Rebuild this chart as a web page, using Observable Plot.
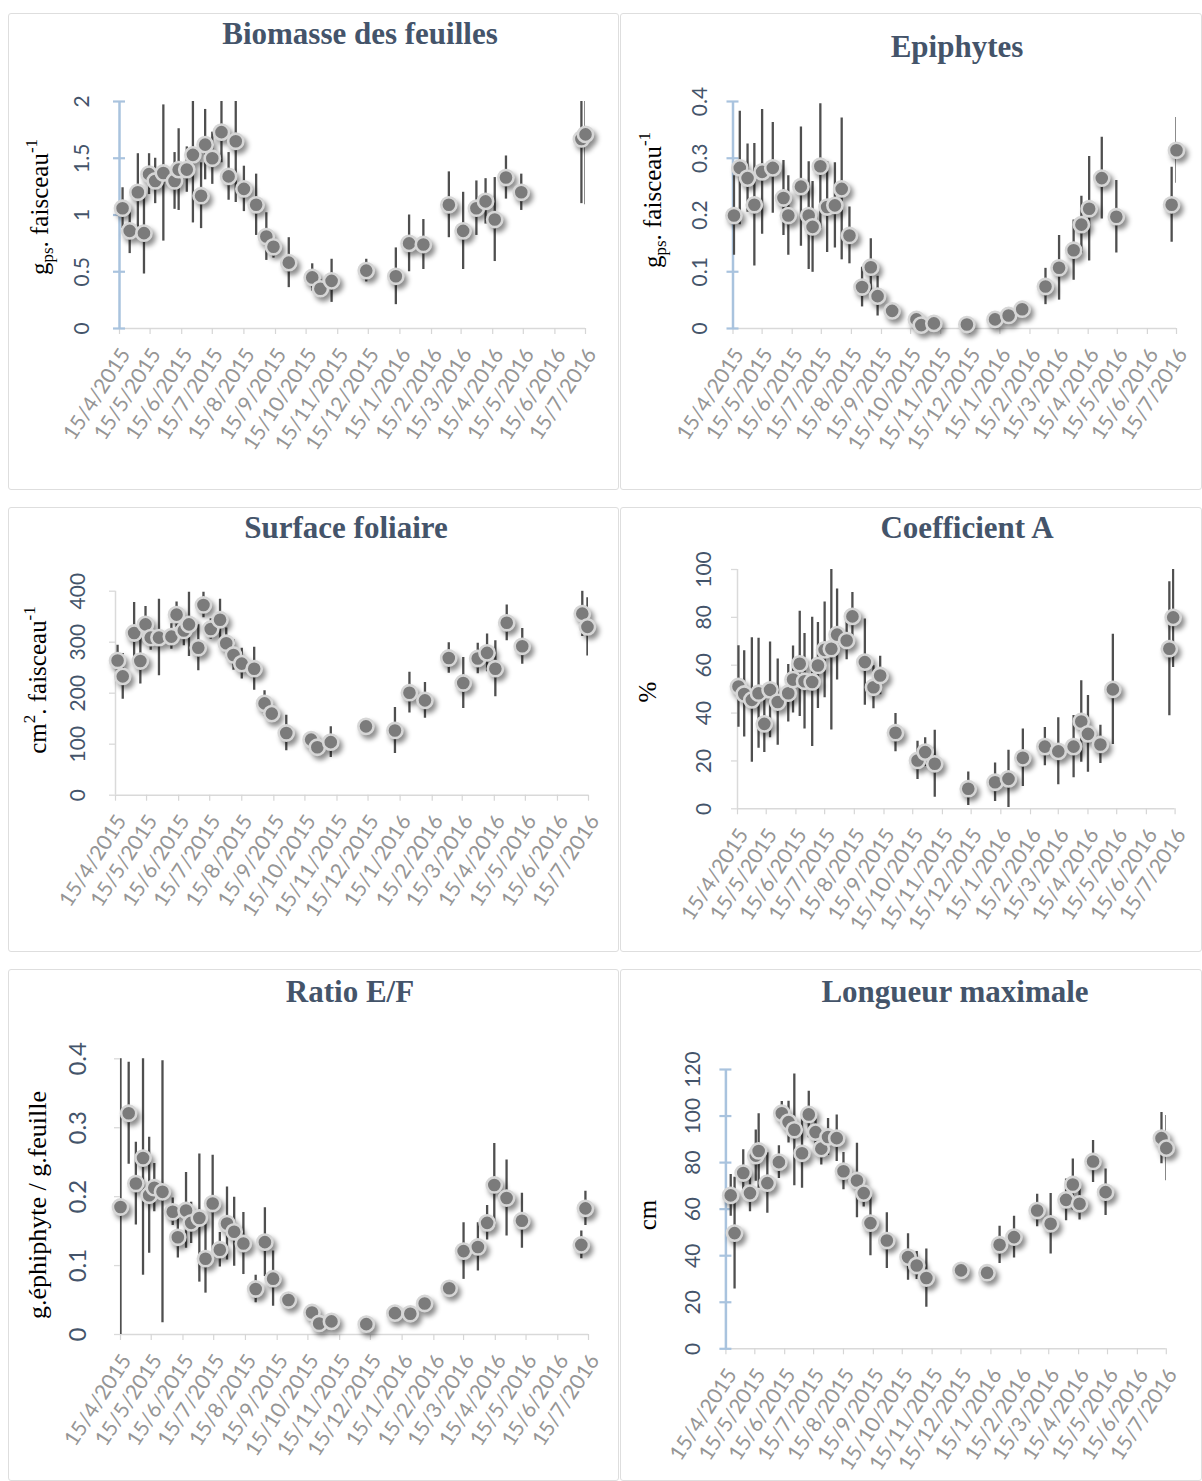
<!DOCTYPE html>
<html lang="fr">
<head>
<meta charset="utf-8">
<script src="https://cdn.jsdelivr.net/npm/d3@7"></script>
<script src="https://cdn.jsdelivr.net/npm/@observablehq/plot@0.6"></script>
<style>
  body { margin: 0; background: #fff; }
  #board { position: relative; width: 1202px; height: 1481px; overflow: hidden; background: #fff; }
  .panel { position: absolute; box-sizing: border-box; border: 1.5px solid #dedede; border-radius: 3px; }
  .chart { position: absolute; }
</style>
</head>
<body>
<div id="board"></div>
<script>
// Monthly date ticks shared by every panel
const xTickLabels = ["15/4/2015","15/5/2015","15/6/2015","15/7/2015","15/8/2015","15/9/2015","15/10/2015",
  "15/11/2015","15/12/2015","15/1/2016","15/2/2016","15/3/2016","15/4/2016","15/5/2016","15/6/2016","15/7/2016"];

// Biomasse des feuilles (g ps / faisceau): mean and error half-width
const biomDates = ["2015-04-18","2015-04-25","2015-05-03","2015-05-09","2015-05-14","2015-05-20","2015-05-28","2015-06-08",
  "2015-06-12","2015-06-20","2015-06-26","2015-07-04","2015-07-08","2015-07-15","2015-07-24","2015-07-31","2015-08-07",
  "2015-08-15","2015-08-27","2015-09-06","2015-09-13","2015-09-28","2015-10-21","2015-10-29","2015-11-09","2015-12-13",
  "2016-01-11","2016-01-24","2016-02-07","2016-03-03","2016-03-17","2016-03-30","2016-04-08","2016-04-17","2016-04-28",
  "2016-05-13","2016-07-11","2016-07-15"];
const biomMean = [1.06,0.86,1.20,0.84,1.36,1.30,1.37,1.30,1.40,1.40,1.53,1.17,1.62,1.50,1.73,1.34,1.65,1.23,1.09,0.81,
  0.72,0.58,0.45,0.35,0.42,0.51,0.46,0.75,0.74,1.09,0.86,1.06,1.12,0.96,1.33,1.20,1.67,1.71];
const biomErr = [0.18,0.20,0.34,0.36,0.18,0.20,0.60,0.25,0.36,0.20,0.60,0.29,0.31,0.23,0.27,0.21,0.54,0.20,0.27,0.21,
  0.10,0.22,0.12,0.08,0.19,0.10,0.25,0.25,0.22,0.29,0.34,0.24,0.20,0.37,0.19,0.16,0.57,0.62];
const biomTicks = [0, 0.5, 1, 1.5, 2];

// Epiphytes (g ps / faisceau)
const epiDates = ["2015-04-16","2015-04-22","2015-04-30","2015-05-07","2015-05-15","2015-05-26","2015-06-06","2015-06-11",
  "2015-06-24","2015-07-02","2015-07-06","2015-07-14","2015-07-21","2015-07-29","2015-08-05","2015-08-13","2015-08-26",
  "2015-09-04","2015-09-11","2015-09-26","2015-10-21","2015-10-26","2015-11-08","2015-12-12","2016-01-10","2016-01-24",
  "2016-02-07","2016-03-02","2016-03-16","2016-03-31","2016-04-08","2016-04-16","2016-04-29","2016-05-14","2016-07-10",
  "2016-07-15"];
const epiMean = [0.199,0.283,0.265,0.218,0.276,0.283,0.230,0.199,0.250,0.199,0.179,0.286,0.214,0.217,0.246,0.164,0.073,
  0.108,0.057,0.031,0.016,0.006,0.009,0.007,0.016,0.023,0.034,0.074,0.107,0.138,0.183,0.211,0.265,0.197,0.218,0.314];
const epiErr = [0.070,0.100,0.060,0.108,0.110,0.080,0.066,0.070,0.105,0.095,0.080,0.110,0.080,0.075,0.125,0.050,0.035,
  0.050,0.035,0.005,0.005,0.004,0.004,0.004,0.004,0.005,0.006,0.032,0.057,0.053,0.050,0.092,0.072,0.064,0.066,0.058];
const epiTicks = [0, 0.1, 0.2, 0.3, 0.4];

// Surface foliaire (cm2 / faisceau)
const surfDates = ["2015-04-17","2015-04-22","2015-05-03","2015-05-09","2015-05-14","2015-05-19","2015-05-27","2015-06-08",
  "2015-06-13","2015-06-20","2015-06-25","2015-07-04","2015-07-09","2015-07-16","2015-07-25","2015-07-31","2015-08-07",
  "2015-08-15","2015-08-27","2015-09-06","2015-09-13","2015-09-27","2015-10-21","2015-10-27","2015-11-09","2015-12-13",
  "2016-01-10","2016-01-24","2016-02-08","2016-03-02","2016-03-16","2016-03-30","2016-04-08","2016-04-16","2016-04-27",
  "2016-05-12","2016-07-09","2016-07-14"];
const surfMean = [264,233,318,263,335,309,309,311,354,323,335,289,373,326,344,298,275,258,248,180,160,122,109,94,104,
  135,127,201,186,269,220,268,279,248,338,292,356,330];
const surfErr = [30,45,60,45,35,25,75,25,25,30,63,45,25,20,40,30,30,30,42,25,15,35,15,15,30,15,45,40,35,30,50,30,37,
  55,35,35,45,57];
const surfTicks = [0, 100, 200, 300, 400];

// Coefficient A (%)
const coefDates = ["2015-04-16","2015-04-22","2015-04-30","2015-05-07","2015-05-13","2015-05-19","2015-05-27","2015-06-07",
  "2015-06-12","2015-06-19","2015-06-24","2015-07-02","2015-07-08","2015-07-15","2015-07-22","2015-07-28","2015-08-07",
  "2015-08-13","2015-08-26","2015-09-04","2015-09-11","2015-09-27","2015-10-20","2015-10-28","2015-11-07","2015-12-12",
  "2016-01-09","2016-01-23","2016-02-07","2016-03-01","2016-03-15","2016-03-31","2016-04-08","2016-04-15","2016-04-28",
  "2016-05-11","2016-07-09","2016-07-13"];
const coefMean = [51.1,48.0,45.5,48.3,35.5,49.7,44.6,48.3,54.0,60.6,53.3,53.0,59.9,66.4,66.9,72.8,70.3,80.4,61.3,50.8,
  55.7,31.8,20.2,23.7,18.8,8.4,11.1,12.5,21.3,26.0,24.0,26.0,36.5,31.3,26.9,49.9,66.9,80.0];
const coefErr = [17,18,26,23,12,20,18,12,14,22,20,27,18,20,34,19,8,10,18,9,8,8,8,6,14,7,8,12,12,8,14,13,17,16,8,23,28,21];
const coefTicks = [0, 20, 40, 60, 80, 100];

// Ratio E/F (g epiphyte / g feuille)
const ratioDates = ["2015-04-15","2015-04-23","2015-04-30","2015-05-07","2015-05-13","2015-05-18","2015-05-26","2015-06-05",
  "2015-06-10","2015-06-18","2015-06-23","2015-07-01","2015-07-07","2015-07-14","2015-07-21","2015-07-28","2015-08-04",
  "2015-08-13","2015-08-25","2015-09-03","2015-09-11","2015-09-26","2015-10-19","2015-10-26","2015-11-07","2015-12-11",
  "2016-01-08","2016-01-23","2016-02-06","2016-03-01","2016-03-15","2016-03-29","2016-04-07","2016-04-14","2016-04-26",
  "2016-05-11","2016-07-08","2016-07-12"];
const ratioMean = [0.185,0.321,0.219,0.256,0.202,0.213,0.207,0.178,0.141,0.180,0.162,0.169,0.110,0.190,0.123,0.161,0.149,
  0.132,0.066,0.134,0.081,0.050,0.032,0.016,0.019,0.015,0.031,0.030,0.045,0.067,0.121,0.127,0.162,0.217,0.198,0.165,
  0.130,0.183];
const ratioErr = [0.220,0.074,0.060,0.170,0.084,0.035,0.190,0.020,0.030,0.055,0.030,0.093,0.050,0.070,0.025,0.053,0.050,
  0.045,0.020,0.050,0.040,0.005,0.005,0.005,0.010,0.005,0.003,0.003,0.005,0.005,0.041,0.035,0.025,0.060,0.055,0.040,
  0.020,0.025];
const ratioTicks = [0, 0.1, 0.2, 0.3, 0.4];

// Longueur maximale (cm)
const longDates = ["2015-04-20","2015-04-24","2015-05-03","2015-05-10","2015-05-16","2015-05-19","2015-05-28","2015-06-09",
  "2015-06-12","2015-06-19","2015-06-25","2015-07-03","2015-07-10","2015-07-17","2015-07-23","2015-07-30","2015-08-08",
  "2015-08-15","2015-08-29","2015-09-05","2015-09-12","2015-09-29","2015-10-21","2015-10-30","2015-11-09","2015-12-15",
  "2016-01-11","2016-01-24","2016-02-08","2016-03-03","2016-03-17","2016-04-02","2016-04-09","2016-04-16","2016-04-30",
  "2016-05-13","2016-07-10","2016-07-15"];
const longMean = [65.9,49.7,75.5,66.9,83.0,85.0,71.2,80.2,101.2,97.4,94.1,84.0,100.7,93.1,86.0,91.0,90.5,76.3,72.3,66.9,
  54.0,46.5,39.4,35.8,30.4,33.7,32.7,44.7,48.0,59.4,53.7,64.0,70.6,62.3,80.5,67.3,90.5,86.2];
const longErr = [9,24,10,8,11,16,13,7,5,9,24,15,10,8,7,8,10,8,16,6,14,12,10,6,12.5,3,3,8,9,7,13,9,11,7,9,10,11,14];
const longTicks = [0, 20, 40, 60, 80, 100, 120];

// Panel titles and y-axis titles (rich text pieces: normal / sub / sup)
const titles = ["Biomasse des feuilles", "Epiphytes", "Surface foliaire", "Coefficient A", "Ratio E/F", "Longueur maximale"];
const yTitles = [
  [["g"], ["ps", "sub"], [". faisceau"], ["-1", "sup"]],
  [["g"], ["ps", "sub"], [". faisceau"], ["-1", "sup"]],
  [["cm"], ["2", "sup"], [". faisceau"], ["-1", "sup"]],
  [["%"]],
  [["g.éphiphyte / g.feuille"]],
  [["cm"]]
];

// ---------- drawing ----------
const parseTick = d3.utcParse("%d/%m/%Y");
const parseIso = d3.utcParse("%Y-%m-%d");
const xTicks = xTickLabels.map((label) => ({date: parseTick(label), label}));
const xDomain = [xTicks[0].date, xTicks[xTicks.length - 1].date];

const layouts = [
  {box: [8, 13, 611, 477], m: [88, 34, 162, 111], axis: "blue", labelDx: -37, labelSize: 21,
   title: [360, 37], yTitle: [42, 207], yTitleSize: 25},
  {box: [620, 13, 582, 477], m: [88, 26, 162, 112.5], axis: "blue", labelDx: -33, labelSize: 21,
   title: [957, 50], yTitle: [655, 200], yTitleSize: 25},
  {box: [8, 507, 611, 445], m: [83.7, 31, 157.3, 107], axis: "grey", labelDx: -37, labelSize: 21,
   title: [346, 531], yTitle: [40, 680], yTitleSize: 25},
  {box: [620, 507, 582, 445], m: [62, 27.4, 143.7, 117], axis: "grey", labelDx: -33, labelSize: 21,
   title: [967, 531], yTitle: [650, 692], yTitleSize: 25},
  {box: [8, 969, 611, 512], m: [89.3, 31, 147, 112], axis: "grey", labelDx: -42, labelSize: 24,
   title: [350, 995], yTitle: [40, 1205], yTitleSize: 26},
  {box: [620, 969, 582, 512], m: [100, 36.2, 132.7, 105.4], axis: "blue", labelDx: -33, labelSize: 21,
   title: [955, 995], yTitle: [650, 1215], yTitleSize: 25}
];

const series = [
  {dates: biomDates, mean: biomMean, err: biomErr, ticks: biomTicks},
  {dates: epiDates, mean: epiMean, err: epiErr, ticks: epiTicks},
  {dates: surfDates, mean: surfMean, err: surfErr, ticks: surfTicks},
  {dates: coefDates, mean: coefMean, err: coefErr, ticks: coefTicks},
  {dates: ratioDates, mean: ratioMean, err: ratioErr, ticks: ratioTicks},
  {dates: longDates, mean: longMean, err: longErr, ticks: longTicks}
];

const board = document.getElementById("board");
const serif = "'Liberation Serif', 'Times New Roman', serif";
const sans = "Lato, 'Open Sans', sans-serif";

series.forEach((s, k) => {
  const L = layouts[k];
  const [left, top, w, h] = L.box;
  const [mt, mr, mb, ml] = L.m;
  const plotW = w - ml - mr;
  const plotH = h - mt - mb;
  const yDomain = [s.ticks[0], s.ticks[s.ticks.length - 1]];
  const rows = s.dates.map((d, i) => ({date: parseIso(d), mean: s.mean[i], err: s.err[i]}));
  const blue = L.axis === "blue";
  const axisColor = blue ? "#a9c3de" : "#dadada";

  const panel = document.createElement("div");
  panel.className = "panel";
  Object.assign(panel.style, {left: left + "px", top: top + "px", width: w + "px", height: h + "px"});
  board.appendChild(panel);

  const svg = Plot.plot({
    width: w, height: h,
    marginTop: mt, marginRight: mr, marginBottom: mb, marginLeft: ml,
    x: {type: "utc", domain: xDomain, axis: null},
    y: {domain: yDomain, axis: null},
    style: {overflow: "visible", background: "transparent"},
    marks: [
      // x axis baseline and monthly tick marks
      Plot.ruleY([yDomain[0]], {stroke: "#d9d9d9", strokeWidth: 1.5}),
      Plot.ruleX(xTicks, {x: "date", insetTop: plotH, insetBottom: -6, stroke: "#d6d6d6", strokeWidth: 1.2}),
      // y axis line and tick marks
      Plot.ruleX([xDomain[0]], {y1: yDomain[0], y2: yDomain[1], stroke: axisColor, strokeWidth: blue ? 2.5 : 1.5}),
      Plot.ruleY(s.ticks, {y: (d) => d, insetLeft: -6, insetRight: blue ? plotW - 6 : plotW,
        stroke: axisColor, strokeWidth: blue ? 2.2 : 1.3}),
      // error bars
      Plot.ruleX(rows, {x: "date", y1: (d) => d.mean - d.err, y2: (d) => d.mean + d.err,
        stroke: "#4f4f4f", strokeWidth: 2.3, clip: true}),
      // means
      Plot.dot(rows, {x: "date", y: "mean", r: 7.6, fill: "#7b7b7b", stroke: "#d6d6d6", strokeWidth: 2.6}),
      // tick labels
      Plot.text(xTicks, {x: "date", text: "label", frameAnchor: "bottom", rotate: -57,
        textAnchor: "end", lineAnchor: "middle", dx: 6, dy: 22,
        fill: "#959595", fontSize: 21, fontFamily: sans}),
      Plot.text(s.ticks, {y: (d) => d, text: (d) => String(d), frameAnchor: "left", rotate: -90,
        textAnchor: "middle", lineAnchor: "middle", dx: L.labelDx,
        fill: "#44546a", fontSize: L.labelSize, fontFamily: sans})
    ]
  });
  svg.classList.add("chart");
  Object.assign(svg.style, {left: left + "px", top: top + "px"});
  board.appendChild(svg);

  const sel = d3.select(svg);
  sel.selectAll('g[aria-label="dot"]').style("filter", "drop-shadow(3px 4px 2.5px rgba(0,0,0,0.45))");

  // panel title
  sel.append("text")
    .attr("x", L.title[0] - left).attr("y", L.title[1] - top)
    .attr("text-anchor", "middle").attr("dominant-baseline", "middle")
    .attr("font-family", serif).attr("font-weight", "bold").attr("font-size", 31)
    .attr("fill", "#44546a")
    .text(titles[k]);

  // y-axis title with sub/superscripts
  const t = sel.append("text")
    .attr("transform", `translate(${L.yTitle[0] - left},${L.yTitle[1] - top}) rotate(-90)`)
    .attr("text-anchor", "middle").attr("dominant-baseline", "middle")
    .attr("font-family", serif).attr("font-size", L.yTitleSize).attr("fill", "#000");
  let shift = 0;
  yTitles[k].forEach(([txt, kind]) => {
    const target = kind === "sub" ? 7 : kind === "sup" ? -9 : 0;
    t.append("tspan")
      .attr("dy", target - shift)
      .attr("font-size", kind ? L.yTitleSize * 0.68 : L.yTitleSize)
      .text(txt);
    shift = target;
  });
});
</script>
</body>
</html>
